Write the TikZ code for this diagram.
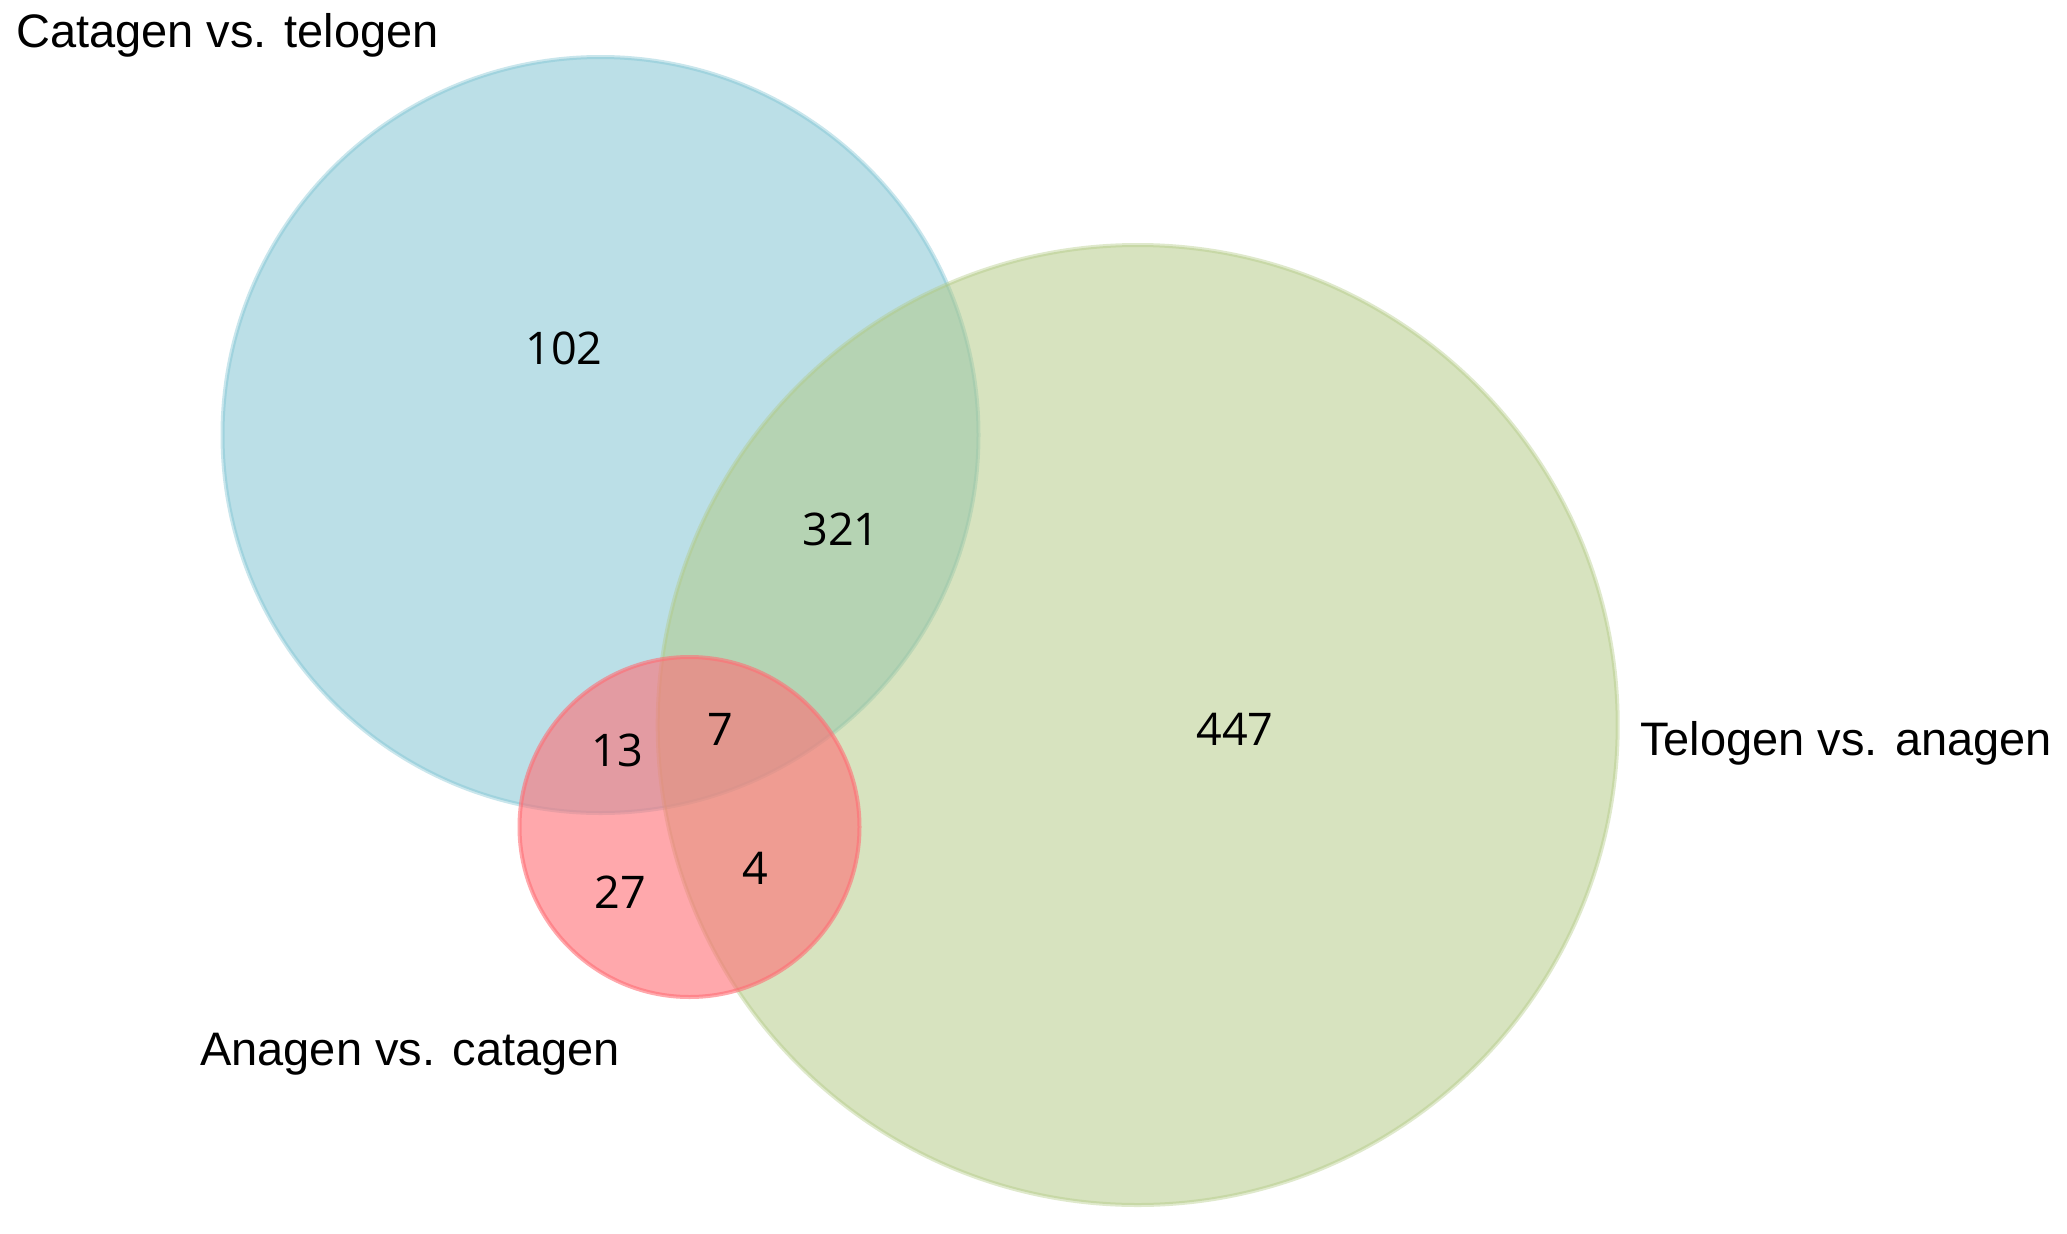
\documentclass[tikz,border=0pt]{standalone}
\usepackage{fontspec}
\setmainfont{Liberation Sans}
\newfontfamily\numfont{Open Sans}
\definecolor{cblue}{RGB}{121,193,209}
\definecolor{cgreen}{RGB}{177,201,129}
\definecolor{cred}{RGB}{255,110,117}
\begin{document}
\begin{tikzpicture}[x=1pt,y=-1pt,
  setcircle/.style={fill=#1,fill opacity=0.5,draw=#1,draw opacity=0.4,line width=4pt},
  setlabel/.style={font=\fontsize{47}{56}\selectfont,anchor=base west,inner sep=0pt},
  count/.style={font=\numfont\fontsize{45}{52}\selectfont,inner sep=0pt}]
\useasboundingbox (0,0) rectangle (2067,1234);
\fill[white] (0,0) rectangle (2067,1234);
\draw[setcircle=cblue] (600.5,435) circle[radius=378];
\draw[setcircle=cgreen] (1137.7,725) circle[radius=480];
\draw[setcircle=cred,fill opacity=0.6,draw opacity=0.6] (689.5,827) circle[radius=170];
\node[setlabel] (lct) at (16,47) {Catagen vs. telogen};
\node[setlabel] (lta) at (1640,755) {Telogen vs. anagen};
\node[setlabel] (lac) at (200,1065) {Anagen vs. catagen};
\node[count] (n102) at (564,348) {102};
\node[count] (n321) at (841,529) {321};
\node[count] (n447) at (1235,729) {447};
\node[count] (n13) at (617,750) {13};
\node[count] (n7) at (720,729) {7};
\node[count] (n27) at (620,892) {27};
\node[count] (n4) at (755,868) {4};
\end{tikzpicture}
\end{document}
